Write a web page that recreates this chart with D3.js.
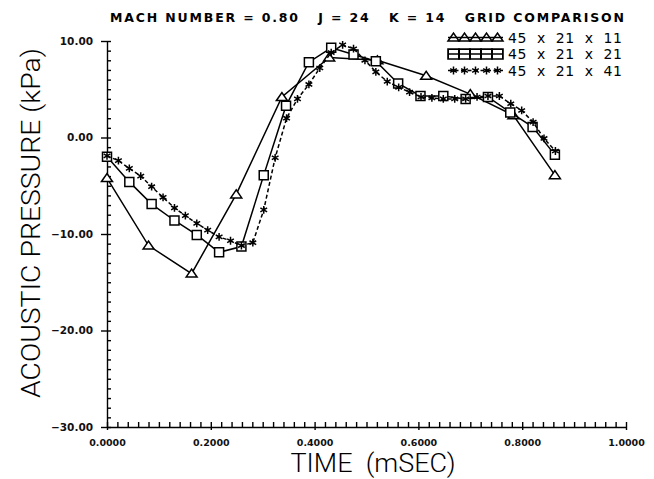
<!DOCTYPE html>
<html>
<head>
<meta charset="utf-8">
<script src="https://cdn.jsdelivr.net/npm/d3@7.9.0/dist/d3.min.js"></script>
<style>
  body { margin: 0; background: #fff; }
  svg { display: block; }
  .tick text { font-family: 'DejaVu Sans', sans-serif; font-weight: bold; fill: #111; }
  .axis path, .axis line { stroke: #000; stroke-width: 1.4; }
</style>
</head>
<body>
<svg id="chart" width="654" height="479"></svg>
<script>
// values (time in msec, pressure in kPa)
const triTime = [0.000, 0.080, 0.163, 0.249, 0.337, 0.428, 0.521, 0.615, 0.700, 0.783, 0.863];
const triPres = [-4.2, -11.2, -14.1, -5.9, 4.2, 8.3, 8.0, 6.4, 4.5, 2.3, -3.9];

const sqTime = [0.000, 0.043, 0.086, 0.130, 0.173, 0.216, 0.259, 0.302, 0.345, 0.389, 0.432,
                0.475, 0.518, 0.561, 0.604, 0.648, 0.691, 0.734, 0.777, 0.820, 0.863];
const sqPres = [-2.0, -4.6, -6.9, -8.6, -10.1, -11.9, -11.3, -3.9, 3.3, 7.8, 9.3,
                8.6, 7.9, 5.6, 4.3, 4.3, 4.0, 4.2, 2.6, 1.1, -1.8];

const starTime = [0.000, 0.022, 0.043, 0.065, 0.086, 0.108, 0.130, 0.151, 0.173, 0.194, 0.216,
                  0.238, 0.259, 0.281, 0.302, 0.324, 0.346, 0.367, 0.389, 0.410, 0.432,
                  0.454, 0.475, 0.497, 0.518, 0.540, 0.562, 0.583, 0.605, 0.626, 0.648,
                  0.670, 0.691, 0.713, 0.734, 0.756, 0.778, 0.799, 0.821, 0.842, 0.864];
const starPres = [-1.9, -2.4, -3.2, -4.0, -5.1, -6.2, -7.3, -8.1, -8.9, -9.6, -10.3,
                  -10.7, -11.2, -10.9, -7.5, -2.1, 2.0, 4.0, 5.5, 7.2, 8.8,
                  9.6, 9.2, 8.0, 6.8, 5.8, 5.2, 4.7, 4.2, 4.1, 4.0,
                  4.0, 4.0, 4.2, 4.3, 4.3, 3.5, 2.8, 1.6, -0.1, -1.4];

const legendLabels = ['45  x  21  x  11', '45  x  21  x  21', '45  x  21  x  41'];
const xTicks = [0, 0.2, 0.4, 0.6, 0.8, 1.0];
const yTicks = [-30, -20, -10, 0, 10];

const svg = d3.select('#chart');

const x = d3.scaleLinear().domain([0, 1]).range([107, 626]);
const y = d3.scaleLinear().domain([-30, 10]).range([427, 41]);

// marker shapes
const markers = {
  tri: 'M-5.5,3.5L0,-4.5L5.5,3.5Z',
  sq: 'M-4.5,-4.5H4.5V4.5H-4.5Z',
  star: d3.symbol(d3.symbolAsterisk, 42)()
};

const series = [
  { time: triTime, pres: triPres, marker: 'tri', dash: null },
  { time: sqTime, pres: sqPres, marker: 'sq', dash: null },
  { time: starTime, pres: starPres, marker: 'star', dash: '4,2.5' }
];

// minor ticks first (inside), then major axes with labels
svg.append('g')
  .attr('class', 'axis')
  .attr('transform', `translate(0,${y(-30)})`)
  .call(d3.axisBottom(x).tickValues(d3.range(0, 1.001, 0.02)).tickSize(-5).tickSizeOuter(0).tickFormat(''));

svg.append('g')
  .attr('class', 'axis')
  .attr('transform', `translate(0,${y(-30)})`)
  .call(d3.axisBottom(x).tickValues(xTicks).tickSize(3).tickSizeOuter(0).tickPadding(9).tickFormat(d3.format('.4f')))
  .call(g => g.select('.domain').remove())
  .call(g => g.selectAll('.tick text').attr('font-size', 9.5));

svg.append('g')
  .attr('class', 'axis')
  .attr('transform', `translate(${x(0)},0)`)
  .call(d3.axisLeft(y).tickValues(d3.range(-30, 10.5, 1)).tickSize(-4).tickSizeOuter(0).tickFormat(''));

svg.append('g')
  .attr('class', 'axis')
  .attr('transform', `translate(${x(0)},0)`)
  .call(d3.axisLeft(y).tickValues(yTicks).tickSize(6).tickSizeOuter(0).tickPadding(8).tickFormat(d3.format('.2f')))
  .call(g => g.select('.domain').remove())
  .call(g => g.selectAll('.tick text').attr('font-size', 10.5));

// data lines and markers
const line = d3.line().x(d => x(d[0])).y(d => y(d[1]));

series.forEach(s => {
  const pts = d3.zip(s.time, s.pres);
  svg.append('path')
    .attr('d', line(pts))
    .attr('fill', 'none')
    .attr('stroke', '#000')
    .attr('stroke-width', 1.5)
    .attr('stroke-dasharray', s.dash);
  svg.append('g').selectAll('path')
    .data(pts)
    .join('path')
    .attr('transform', d => `translate(${x(d[0])},${y(d[1])})`)
    .attr('d', markers[s.marker])
    .attr('fill', s.marker === 'star' ? 'none' : '#fff')
    .attr('stroke', '#000')
    .attr('stroke-width', 1.5);
});

// legend
const legend = svg.append('g').attr('transform', 'translate(448,0)');
series.forEach((s, i) => {
  const ly = 37.5 + i * 16.5;
  legend.append('line')
    .attr('x1', 0).attr('x2', 55).attr('y1', ly).attr('y2', ly)
    .attr('stroke', '#000').attr('stroke-width', 1.5)
    .attr('stroke-dasharray', s.dash);
  legend.append('g').selectAll('path')
    .data(d3.range(5))
    .join('path')
    .attr('transform', k => `translate(${5.5 + k * 11},${ly}) scale(${s.marker === 'sq' ? 1.2 : 1},${s.marker === 'sq' ? 1.1 : 1})`)
    .attr('d', markers[s.marker])
    .attr('fill', 'none')
    .attr('stroke', '#000')
    .attr('stroke-width', 1.5);
  legend.append('text')
    .attr('x', 60).attr('y', ly + 5)
    .attr('font-family', 'DejaVu Sans, sans-serif')
    .attr('font-size', 14)
    .attr('textLength', 114)
    .attr('lengthAdjust', 'spacing')
    .attr('xml:space', 'preserve')
    .text(legendLabels[i]);
});

// titles
svg.append('text')
  .attr('x', 110).attr('y', 22)
  .attr('font-family', 'DejaVu Sans, sans-serif')
  .attr('font-weight', 'bold')
  .attr('font-size', 12.5)
  .attr('textLength', 514)
  .attr('lengthAdjust', 'spacing')
  .attr('xml:space', 'preserve')
  .text('MACH NUMBER = 0.80   J = 24   K = 14   GRID COMPARISON');

svg.append('text')
  .attr('transform', 'translate(40,223) rotate(-90)')
  .attr('text-anchor', 'middle')
  .attr('font-family', 'Roboto, sans-serif')
  .attr('font-weight', 300)
  .attr('font-size', 25)
  .attr('textLength', 350)
  .attr('lengthAdjust', 'spacingAndGlyphs')
  .text('ACOUSTIC PRESSURE (kPa)');

svg.append('text')
  .attr('x', 373).attr('y', 472)
  .attr('text-anchor', 'middle')
  .attr('font-family', 'Roboto, sans-serif')
  .attr('font-weight', 300)
  .attr('font-size', 25)
  .attr('textLength', 165)
  .attr('lengthAdjust', 'spacingAndGlyphs')
  .attr('xml:space', 'preserve')
  .text('TIME  (mSEC)');
</script>
</body>
</html>
